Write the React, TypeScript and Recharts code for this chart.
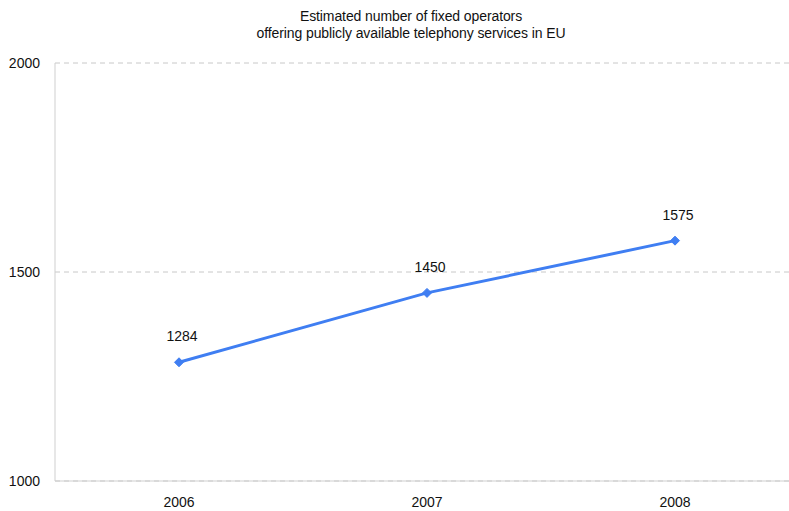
import { LineChart, Line, XAxis, YAxis, CartesianGrid, LabelList } from "recharts";

const years = ["2006", "2007", "2008"];
const operators = [1284, 1450, 1575];
const yTicks = [1000, 1500, 2000];

const data = years.map((year, i) => ({ year, operators: operators[i] }));

const FONT = "'Liberation Sans', Arial, sans-serif";
const BLUE = "#3f7ef2";

function Diamond(props: any) {
  const { cx, cy } = props;
  if (cx == null || cy == null) return null;
  const r = 4.5;
  return (
    <polygon
      points={`${cx},${cy - r} ${cx + r},${cy} ${cx},${cy + r} ${cx - r},${cy}`}
      fill={BLUE}
      stroke={BLUE}
    />
  );
}

export default function App() {
  return (
    <div
      style={{
        position: "absolute",
        left: 0,
        top: 0,
        width: 789,
        height: 511,
        overflow: "hidden",
        background: "#fff",
        fontFamily: FONT,
      }}
    >
      <div
        style={{
          position: "absolute",
          left: 0,
          width: 822,
          top: 8,
          textAlign: "center",
          fontSize: 14,
          lineHeight: "17px",
          letterSpacing: -0.1,
          color: "#111",
        }}
      >
        Estimated number of fixed operators
        <br />
        offering publicly available telephony services in EU
      </div>
      <LineChart
        width={799}
        height={511}
        data={data}
        margin={{ top: 63, right: 0, bottom: 0, left: 0 }}
      >
        <CartesianGrid vertical={false} stroke="#c8c8c8" strokeDasharray="5 4" />
        <XAxis
          dataKey="year"
          height={30}
          padding={{ left: 124, right: 124 }}
          axisLine={{ stroke: "#cfcfcf" }}
          tickLine={false}
          tick={{ fontSize: 14, fill: "#111", fontFamily: FONT }}
          tickMargin={10}
        />
        <YAxis
          width={55}
          domain={[1000, 2000]}
          ticks={yTicks}
          axisLine={{ stroke: "#cfcfcf" }}
          tickLine={false}
          tick={{ fontSize: 14, fill: "#111", fontFamily: FONT }}
          tickMargin={9}
        />
        <Line
          type="linear"
          dataKey="operators"
          stroke={BLUE}
          strokeWidth={3}
          dot={<Diamond />}
          activeDot={false}
          isAnimationActive={false}
        >
          <LabelList
            dataKey="operators"
            position="top"
            offset={21}
            dx={3}
            style={{ fontSize: 14, fill: "#111", fontFamily: FONT }}
          />
        </Line>
      </LineChart>
    </div>
  );
}
